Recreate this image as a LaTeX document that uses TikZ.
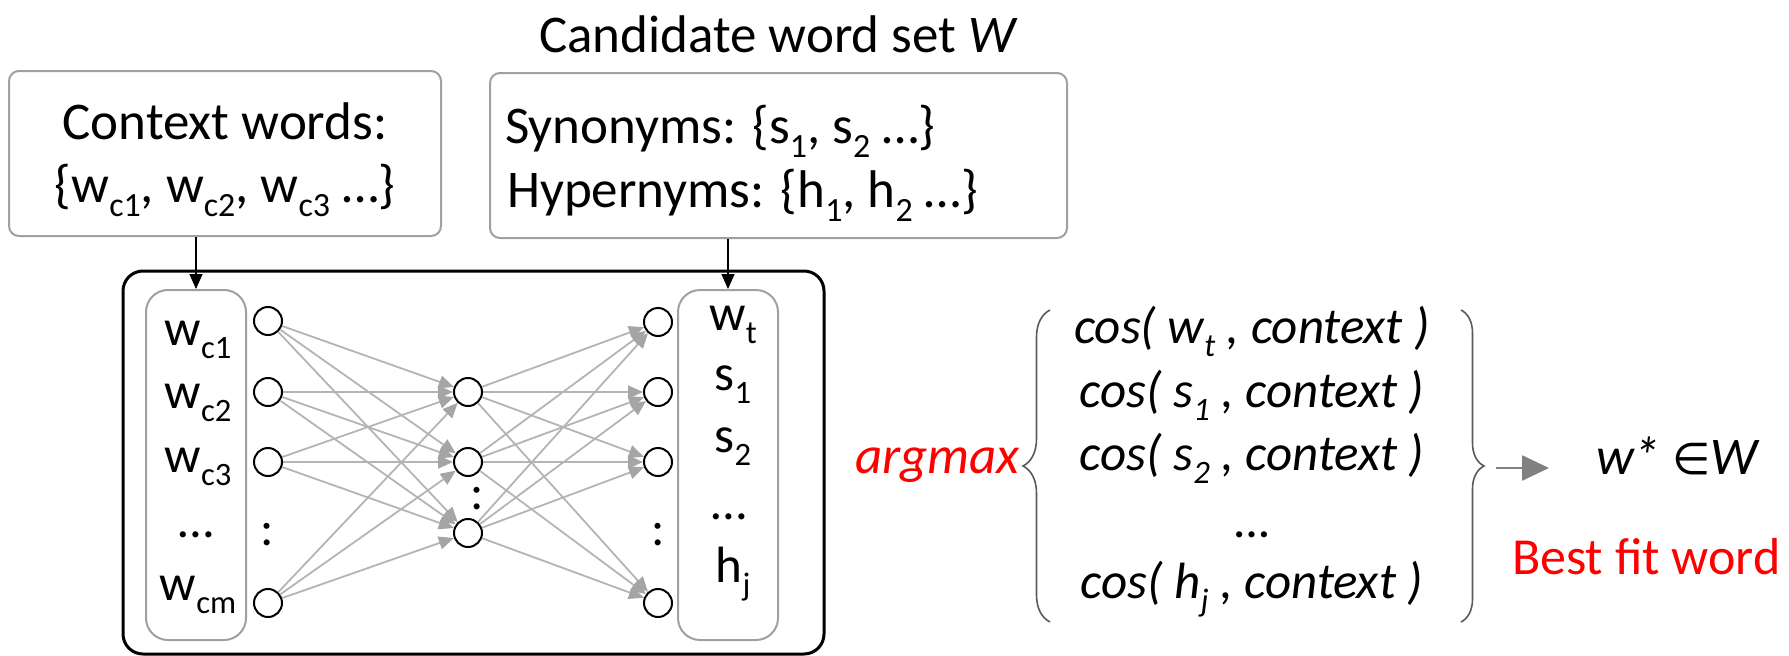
\documentclass[tikz,border=0pt]{standalone}
\usepackage{fontspec}
\setmainfont{Carlito}
\setsansfont{Carlito}
\newfontfamily\symfont{DejaVu Sans}
\usetikzlibrary{arrows.meta,decorations.pathreplacing}

\newcommand\fsz[1]{\fontsize{#1}{#1}\selectfont}
\newcommand\subx[1]{\raisebox{-0.27em}{\scalebox{0.64}{#1}}}

\definecolor{boxgray}{RGB}{160,160,160}
\definecolor{edgegray}{RGB}{180,180,180}
\definecolor{tipgray}{RGB}{165,165,165}
\definecolor{bracegray}{RGB}{90,90,90}
\definecolor{arrowgray}{RGB}{128,128,128}
\definecolor{hlred}{RGB}{255,0,0}

\begin{document}
\begin{tikzpicture}[x=1pt,y=-1pt,
  topbox/.style={draw=boxgray, line width=2pt, rounded corners=10pt, inner sep=0pt},
  listbox/.style={draw=boxgray, line width=2pt, rounded corners=22pt, inner sep=0pt,
    minimum width=100pt, minimum height=350pt},
  netbox/.style={draw=black, line width=3pt, rounded corners=20pt, inner sep=0pt},
  neuron/.style={circle, draw=black, line width=2pt, fill=white, minimum size=28pt, inner sep=0pt},
  txt/.style={inner sep=0pt, outer sep=0pt},
  feed/.style={draw=black, line width=1.5pt, -{Triangle[length=15pt,width=13pt]}},
  edge/.style={draw=edgegray, line width=1.8pt,
    -{Triangle[length=15pt,width=13pt,fill=tipgray,color=tipgray]}},
  curly/.style={draw=bracegray, line width=1.6pt, decorate},
  result/.style={draw=arrowgray, line width=2.5pt,
    -{Triangle[length=27pt,width=25pt]}},
]
\path[use as bounding box] (0,0) rectangle (1789,656);

% title
\node[txt, anchor=base west] (title) at (539,52) {\fsz{53}Candidate word set \textit{W}};

% input word boxes
\node[topbox, minimum width=432pt, minimum height=165pt] (ctx) at (225,153.5) {};
\node[txt, anchor=base] (ctxa) at (225,139) {\fsz{53}Context words:};
\node[txt, anchor=base] (ctxb) at (225,202)
  {\fsz{53}\{w\subx{c1}, w\subx{c2}, w\subx{c3} …\}};

\node[topbox, minimum width=577pt, minimum height=165pt] (cand) at (778.5,155.5) {};
\node[txt, anchor=base west] (canda) at (505,143)
  {\fsz{53}Synonyms: \{s\subx{1}, s\subx{2} …\}};
\node[txt, anchor=base west] (candb) at (507,207)
  {\fsz{53}Hypernyms: \{h\subx{1}, h\subx{2} …\}};

% network frame and word columns
\node[netbox, minimum width=701pt, minimum height=383pt] (net) at (473.5,462.5) {};
\node[listbox] (lbox) at (196,465) {};
\node[listbox] (rbox) at (728,465) {};

\node[txt, anchor=base] (lw1) at (198,345) {\fsz{51}w\subx{c1}};
\node[txt, anchor=base] (lw2) at (198,408) {\fsz{51}w\subx{c2}};
\node[txt, anchor=base] (lw3) at (198,472) {\fsz{51}w\subx{c3}};
\node[txt, anchor=base] (lw4) at (196,537) {\fsz{51}…};
\node[txt, anchor=base] (lw5) at (198,600) {\fsz{51}w\subx{cm}};

\node[txt, anchor=base] (rw1) at (733,330) {\fsz{51}w\subx{t}};
\node[txt, anchor=base] (rw2) at (733,390) {\fsz{51}s\subx{1}};
\node[txt, anchor=base] (rw3) at (733,452) {\fsz{51}s\subx{2}};
\node[txt, anchor=base] (rw4) at (729,519) {\fsz{51}…};
\node[txt, anchor=base] (rw5) at (733,582) {\fsz{51}h\subx{j}};

% neurons
\node[neuron] (in1) at (268,321) {};
\node[neuron] (in2) at (268,392) {};
\node[neuron] (in3) at (268,462) {};
\node[neuron] (in4) at (268,603) {};
\node[txt, anchor=base] (indots) at (267,545) {\fsz{50}:};

\node[neuron] (hid1) at (468,392) {};
\node[neuron] (hid2) at (468,462) {};
\node[neuron] (hid3) at (468,533) {};
\node[txt, anchor=base] (hiddots) at (477,509) {\fsz{50}:};

\node[neuron] (out1) at (658,322) {};
\node[neuron] (out2) at (658,392) {};
\node[neuron] (out3) at (658,462) {};
\node[neuron] (out4) at (658,603) {};
\node[txt, anchor=base] (outdots) at (658,545) {\fsz{50}:};

% fully connected layers
\foreach \i in {1,...,4}
  \foreach \h in {1,2,3}
    \draw[edge] (in\i) -- (hid\h);
\foreach \h in {1,2,3}
  \foreach \o in {1,...,4}
    \draw[edge] (hid\h) -- (out\o);

% feeding the word lists
\draw[feed] (lbox.north |- ctx.south) -- (lbox.north);
\draw[feed] (rbox.north |- cand.south) -- (rbox.north);

% scoring
\node[txt, anchor=base west, text=hlred] (amax) at (855,473) {\fsz{53}\itshape argmax};
\draw[curly, decoration={brace, amplitude=27pt}] (1050,622) -- (1050,310);
\node[txt, anchor=base] (cos1) at (1252,343) {\fsz{51}\itshape cos( w\subx{t} , context )};
\node[txt, anchor=base] (cos2) at (1252,407) {\fsz{51}\itshape cos( s\subx{1} , context )};
\node[txt, anchor=base] (cos3) at (1252,470) {\fsz{51}\itshape cos( s\subx{2} , context )};
\node[txt, anchor=base] (cos4) at (1253,537) {\fsz{51}\itshape …};
\node[txt, anchor=base] (cos5) at (1252,598) {\fsz{51}\itshape cos( h\subx{j} , context )};
\draw[curly, decoration={brace, amplitude=23pt}] (1461,310) -- (1461,622);

\coordinate (ra) at (1496,468);
\coordinate (rb) at (1549,468);
\draw[result] (ra) -- (rb);

\node[txt, anchor=base west] (wstar) at (1596,474)
  {\fsz{53}\itshape w* {\upshape\symfont\fsz{44}∈}W};
\node[txt, anchor=base west, text=hlred] (best) at (1512,574) {\fsz{52}Best fit word};
\end{tikzpicture}
\end{document}
